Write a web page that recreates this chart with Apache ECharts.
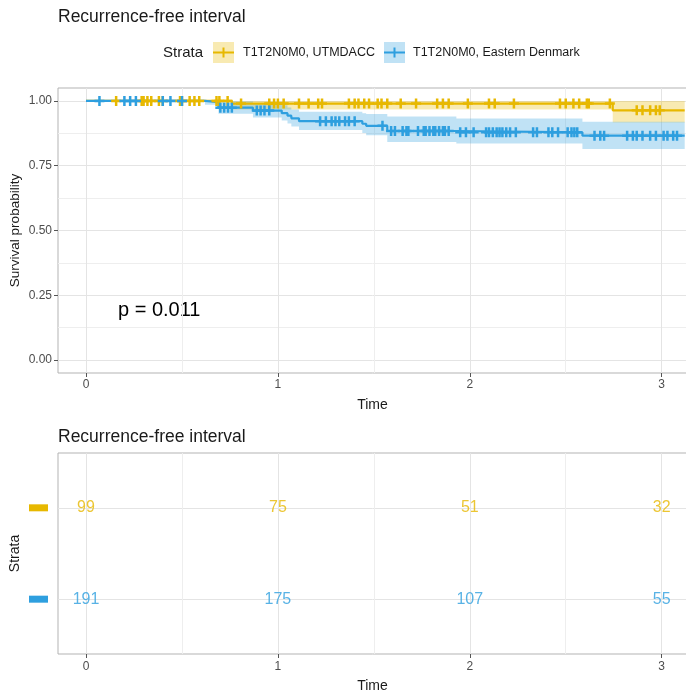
<!DOCTYPE html>
<html><head><meta charset="utf-8">
<script src="https://cdn.jsdelivr.net/npm/echarts@6/dist/echarts.min.js"></script>
<style>html,body{margin:0;padding:0;background:#fff}#c{width:686px;height:696px}</style>
</head><body><div id="c"></div>
<script>
const FONT = '"Liberation Sans", Arial, Helvetica, sans-serif';
const YEL = '#E7B800', BLU = '#2E9FDF';
const YEL_BAND = 'rgba(231,184,0,0.30)', BLU_BAND = 'rgba(46,159,223,0.30)';

// ---- axis ticks ----
const timeTicks = [0, 1, 2, 3];
const timeMinor = [0.5, 1.5, 2.5];
const survTicks = [0, 0.25, 0.5, 0.75, 1];
const survMinor = [0.125, 0.375, 0.625, 0.875];
const strataNames = ['T1T2N0M0, UTMDACC', 'T1T2N0M0, Eastern Denmark'];

// ---- UTMDACC (yellow) KM curve ----
const timesY = [0, 0.76, 2.745, 3.12];
const survY  = [1, 0.99, 0.964, 0.964];
const lowerY = [1, 0.967, 0.917, 0.917];
const upperY = [1, 1, 1, 1];
const censorY = [0.157, 0.29, 0.30, 0.32, 0.34, 0.38, 0.40, 0.49, 0.50, 0.54, 0.565, 0.59,
  0.68, 0.695, 0.738, 0.808, 0.955, 0.98, 1.0, 1.03, 1.11, 1.16, 1.21, 1.23, 1.37, 1.40, 1.42,
  1.45, 1.475, 1.52, 1.54, 1.57, 1.64, 1.72, 1.83, 1.86, 1.89, 1.99, 2.10, 2.13, 2.23, 2.47,
  2.50, 2.54, 2.57, 2.61, 2.62, 2.73, 2.87, 2.90, 2.94, 2.97, 2.99];

// ---- Eastern Denmark (blue) KM curve ----
const timesB = [0, 0.62, 0.69, 0.87, 1.02, 1.05, 1.07, 1.11, 1.44, 1.46, 1.57, 1.93, 2.587, 3.12];
const survB  = [1, 0.995, 0.974, 0.963, 0.953, 0.943, 0.933, 0.922, 0.912, 0.904, 0.884, 0.879, 0.866, 0.866];
const lowerB = [1, 0.985, 0.951, 0.936, 0.925, 0.913, 0.901, 0.888, 0.876, 0.868, 0.842, 0.836, 0.815, 0.815];
const upperB = [1, 1, 0.998, 0.99, 0.983, 0.975, 0.967, 0.958, 0.953, 0.95, 0.94, 0.932, 0.92, 0.92];
const censorB = [0.07, 0.20, 0.23, 0.26, 0.40, 0.44, 0.50,
  0.70, 0.72, 0.74, 0.76, 0.89, 0.91, 0.93, 0.955,
  1.22, 1.25, 1.28, 1.30, 1.32, 1.35, 1.37, 1.40, 1.545,
  1.59, 1.61, 1.65, 1.67, 1.68, 1.73, 1.76, 1.77, 1.79, 1.81, 1.82, 1.84, 1.86, 1.87, 1.89,
  1.95, 1.98, 2.02, 2.085, 2.10, 2.12, 2.14, 2.155, 2.17, 2.19, 2.21, 2.24, 2.33, 2.35, 2.41,
  2.43, 2.46, 2.51, 2.53, 2.545, 2.56,
  2.65, 2.68, 2.70, 2.82, 2.85, 2.87, 2.90, 2.94, 2.97, 3.01, 3.03, 3.06, 3.08];

// ---- risk table ----
const riskTimes = [0, 1, 2, 3];
const riskY = [99, 75, 51, 32];
const riskB = [191, 175, 107, 55];
const pText = 'p = 0.011';

const XMIN = -0.146, XMAX = 3.132;
const PLUS = 'path://M3.75,0H6.25V3.75H10V6.25H6.25V10H3.75V6.25H0V3.75H3.75Z';

function survAt(times, surv, t) {
  let s = surv[0];
  for (let i = 0; i < times.length; i++) if (times[i] <= t) s = surv[i];
  return s;
}
function bandSeries(times, lo, hi, color) {
  return {
    type: 'custom', xAxisIndex: 0, yAxisIndex: 0, data: [[0, 1]], silent: true, z: 1, clip: true,
    renderItem(params, api) {
      const pts = [];
      for (let i = 0; i < times.length; i++) {
        const t1 = i + 1 < times.length ? times[i + 1] : times[i];
        pts.push(api.coord([times[i], hi[i]]), api.coord([t1, hi[i]]));
      }
      for (let i = times.length - 1; i >= 0; i--) {
        const t1 = i + 1 < times.length ? times[i + 1] : times[i];
        pts.push(api.coord([t1, lo[i]]), api.coord([times[i], lo[i]]));
      }
      return { type: 'polygon', shape: { points: pts }, style: { fill: color } };
    }
  };
}
function lineSeries(name, times, surv, color) {
  return { name, type: 'line', step: 'end', xAxisIndex: 0, yAxisIndex: 0, showSymbol: false, z: 3,
    data: times.map((t, i) => [t, surv[i]]), lineStyle: { color, width: 2.2 }, itemStyle: { color } };
}
function censorSeries(times, surv, cens, color) {
  return { type: 'scatter', xAxisIndex: 0, yAxisIndex: 0, symbol: PLUS, symbolSize: [10, 10], z: 4,
    data: cens.map(t => [t, survAt(times, surv, t)]), itemStyle: { color, opacity: 1 } };
}
function riskSeries(counts, row, color) {
  return { type: 'scatter', xAxisIndex: 2, yAxisIndex: 2, symbolSize: 1, z: 4,
    itemStyle: { color: 'rgba(0,0,0,0)' },
    data: riskTimes.map((t, i) => [t, row, counts[i]]),
    label: { show: true, position: 'inside', formatter: p => String(p.value[2]),
      color, fontSize: 16, fontFamily: FONT } };
}

const gridLine = { show: true, lineStyle: { color: '#E4E4E4', width: 1 } };
const minorLine = { show: true, lineStyle: { color: '#EEEEEE', width: 1 } };
const axLabel = { color: '#4D4D4D', fontSize: 12, fontFamily: FONT };
const nameStyle = { color: '#1A1A1A', fontSize: 14, fontFamily: FONT };
const noLine = { show: false, onZero: false };

function mainX(gridIndex, labelMargin) {
  return { type: 'value', gridIndex, min: XMIN, max: XMAX, name: 'Time', nameLocation: 'middle', nameGap: 25,
    nameMoveOverlap: false, nameTextStyle: nameStyle, axisLine: noLine,
    axisTick: { show: true, customValues: timeTicks, length: 4, lineStyle: { color: '#555' } },
    axisLabel: Object.assign({ customValues: timeTicks, margin: labelMargin }, axLabel),
    splitLine: gridLine };
}
function minorX(gridIndex) {
  return { type: 'value', gridIndex, min: XMIN, max: XMAX, axisLine: noLine,
    axisTick: { show: false, customValues: timeMinor }, axisLabel: { show: false }, splitLine: minorLine };
}

const chart = echarts.init(document.getElementById('c'), null, { renderer: 'canvas' });
chart.setOption({
  animation: false,
  backgroundColor: '#fff',
  textStyle: { fontFamily: FONT },
  title: [
    { text: 'Recurrence-free interval', left: 58, top: 8, padding: 0,
      textStyle: { fontSize: 17.5, fontWeight: 'normal', color: '#1A1A1A', fontFamily: FONT, lineHeight: 18 } },
    { text: 'Recurrence-free interval', left: 58, top: 428, padding: 0,
      textStyle: { fontSize: 17.5, fontWeight: 'normal', color: '#1A1A1A', fontFamily: FONT, lineHeight: 18 } }
  ],
  grid: [
    { left: 58, top: 88, width: 629, height: 285, show: true, borderColor: '#B3B3B3', borderWidth: 1,
      containLabel: false, outerBoundsMode: 'none' },
    { left: 58, top: 453, width: 629, height: 201, show: true, borderColor: '#B3B3B3', borderWidth: 1,
      containLabel: false, outerBoundsMode: 'none' }
  ],
  xAxis: [mainX(0, 6), minorX(0), mainX(1, 7), minorX(1)],
  yAxis: [
    { type: 'value', gridIndex: 0, min: -0.05, max: 1.05, name: 'Survival probability', nameLocation: 'middle',
      nameGap: 36, nameMoveOverlap: false, nameTextStyle: Object.assign({}, nameStyle, { fontSize: 13.5 }), axisLine: noLine,
      axisTick: { show: true, customValues: survTicks, length: 4, lineStyle: { color: '#555' } },
      axisLabel: Object.assign({ customValues: survTicks, margin: 6, formatter: v => v.toFixed(2) }, axLabel),
      splitLine: gridLine },
    { type: 'value', gridIndex: 0, min: -0.05, max: 1.05, axisLine: noLine,
      axisTick: { show: false, customValues: survMinor }, axisLabel: { show: false }, splitLine: minorLine },
    { type: 'value', gridIndex: 1, min: 0.4, max: 2.6, name: 'Strata', nameLocation: 'middle', nameGap: 36,
      nameMoveOverlap: false, nameTextStyle: nameStyle, axisLine: noLine,
      axisTick: { show: false, customValues: [1, 2] },
      axisLabel: { customValues: [1, 2], margin: 10,
        formatter: v => (v > 1.5 ? '{y| }' : '{b| }'),
        rich: { y: { backgroundColor: YEL, width: 19, height: 7, fontSize: 7, lineHeight: 7 },
                b: { backgroundColor: BLU, width: 19, height: 7, fontSize: 7, lineHeight: 7 } } },
      splitLine: gridLine }
  ],
  series: [
    bandSeries(timesY, lowerY, upperY, YEL_BAND),
    bandSeries(timesB, lowerB, upperB, BLU_BAND),
    lineSeries(strataNames[0], timesY, survY, YEL),
    lineSeries(strataNames[1], timesB, survB, BLU),
    censorSeries(timesY, survY, censorY, YEL),
    censorSeries(timesB, survB, censorB, BLU),
    riskSeries(riskY, 2, YEL),
    riskSeries(riskB, 1, BLU)
  ],
  graphic: [
    { type: 'text', left: 163, top: 45, style: { text: 'Strata', fontSize: 15, fill: '#1A1A1A', fontFamily: FONT } },
    { type: 'rect', shape: { x: 213, y: 42, width: 21, height: 21 }, style: { fill: YEL_BAND } },
    { type: 'line', shape: { x1: 213, y1: 52.5, x2: 234, y2: 52.5 }, style: { stroke: YEL, lineWidth: 2 } },
    { type: 'line', shape: { x1: 223.5, y1: 47.5, x2: 223.5, y2: 57.5 }, style: { stroke: YEL, lineWidth: 2 } },
    { type: 'text', left: 243, top: 46, style: { text: strataNames[0], fontSize: 12.5, fill: '#1A1A1A', fontFamily: FONT } },
    { type: 'rect', shape: { x: 384, y: 42, width: 21, height: 21 }, style: { fill: BLU_BAND } },
    { type: 'line', shape: { x1: 384, y1: 52.5, x2: 405, y2: 52.5 }, style: { stroke: BLU, lineWidth: 2 } },
    { type: 'line', shape: { x1: 394.5, y1: 47.5, x2: 394.5, y2: 57.5 }, style: { stroke: BLU, lineWidth: 2 } },
    { type: 'text', left: 413, top: 46, style: { text: strataNames[1], fontSize: 12.5, fill: '#1A1A1A', fontFamily: FONT } },
    { type: 'text', left: 118, top: 300, style: { text: pText, fontSize: 20, fill: '#000', fontFamily: FONT } }
  ]
});
</script></body></html>
